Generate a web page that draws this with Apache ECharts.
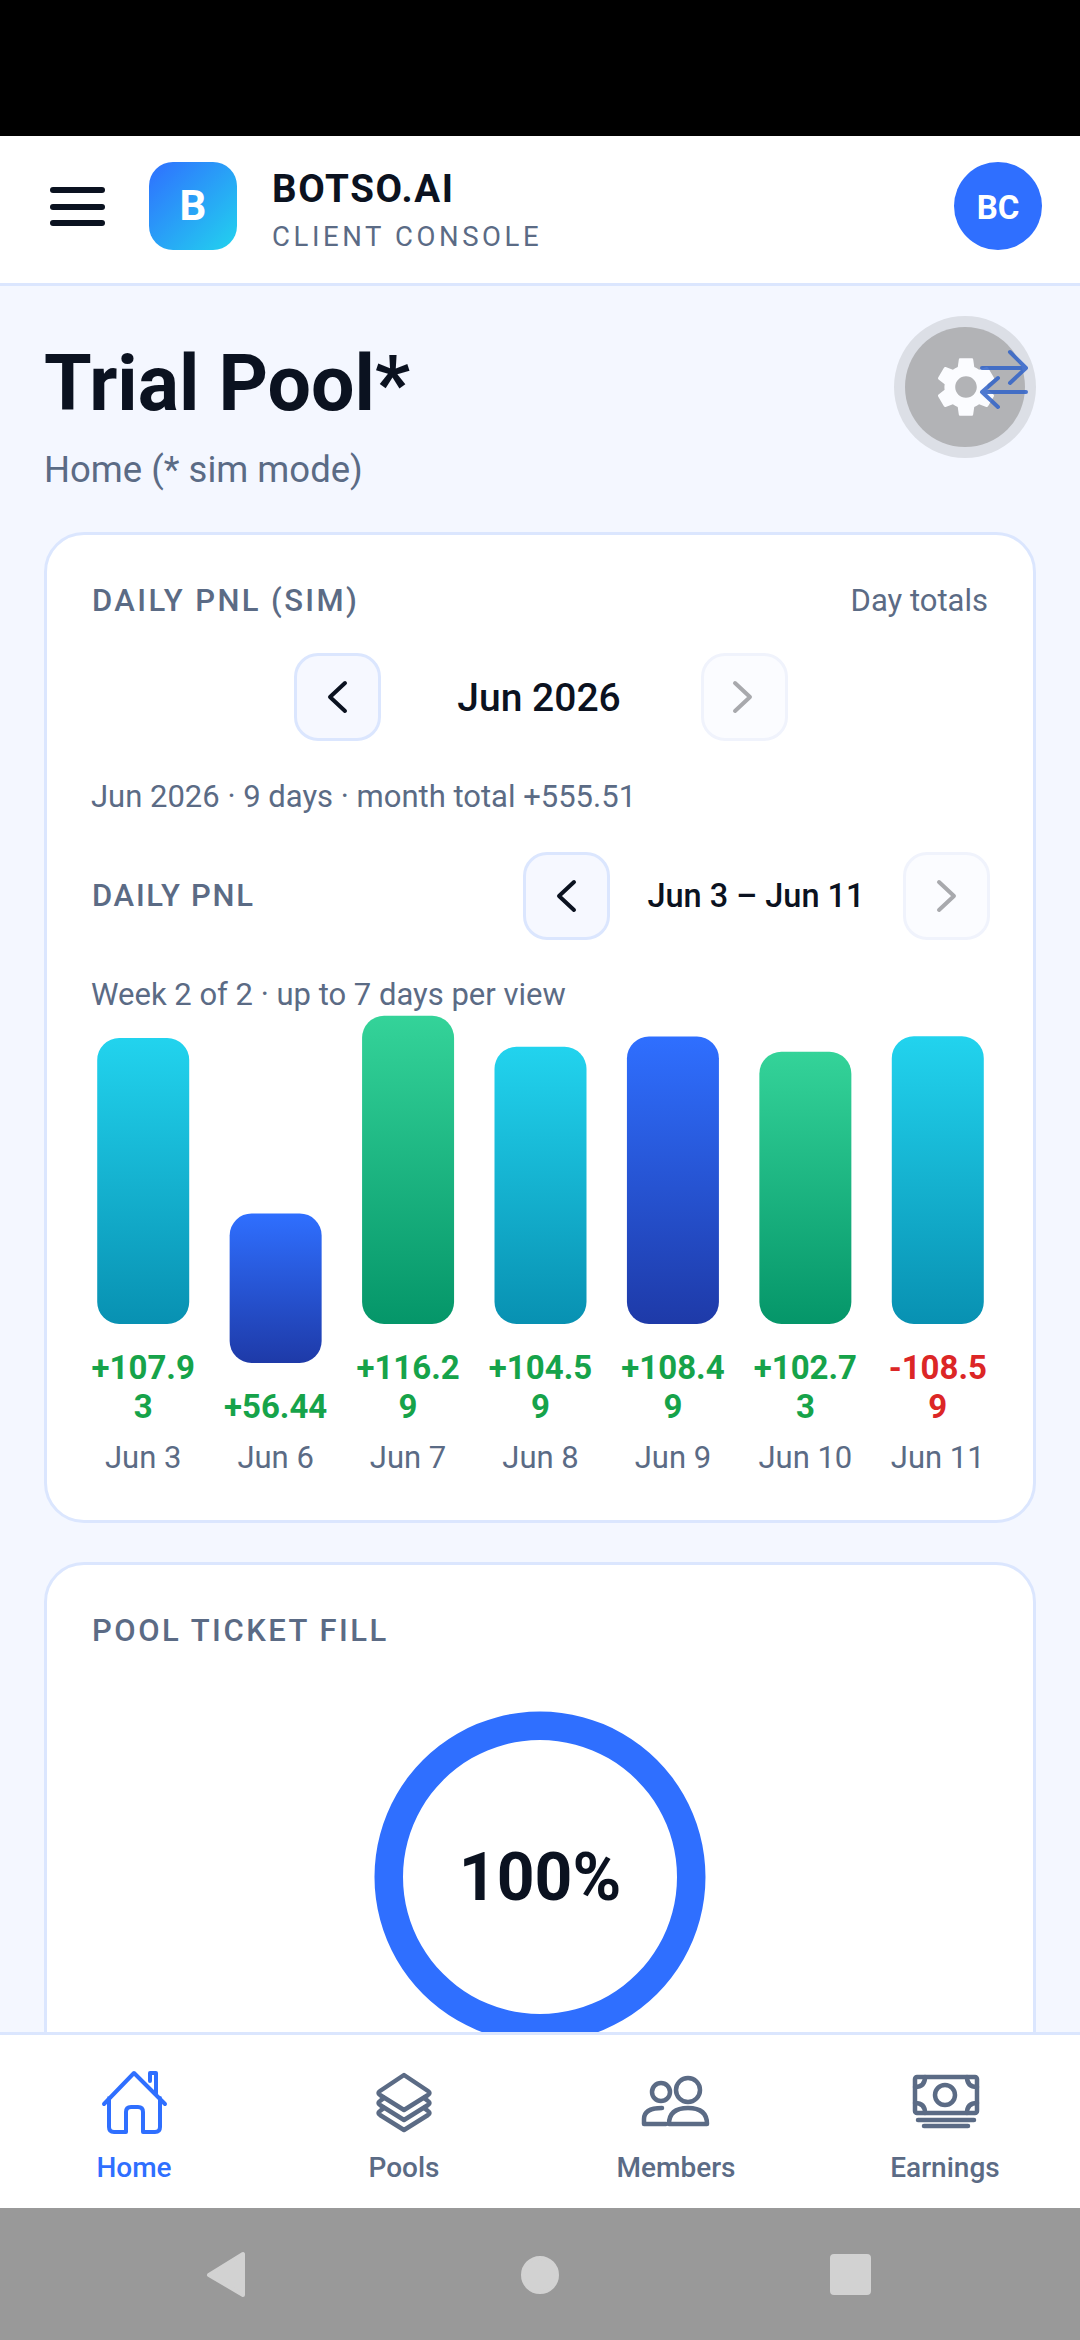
<!DOCTYPE html>
<html>
<head>
<meta charset="utf-8">
<title>Trial Pool</title>
<script src="https://cdn.jsdelivr.net/npm/echarts@6/dist/echarts.min.js"></script>
<style>
  html, body { margin: 0; padding: 0; width: 1080px; height: 2340px; overflow: hidden; background: #f4f7ff; font-family: Roboto, sans-serif; }
  .box { position: absolute; box-sizing: border-box; }
  .t { position: absolute; white-space: nowrap; transform: translateY(-50%); color: #5b6b85; font-size: 31px; line-height: 1.2; }
  .label { font-weight: 500; }
  .dark { color: #0b1220; }
  .card { left: 44px; width: 992px; background: #fff; border: 3px solid #dbe6fe; border-radius: 40px; }
  .btn { width: 87px; height: 88px; border-radius: 24px; background: #f6f8ff; border: 3px solid #dbe6fe; }
  .btn.off { background: #fbfcff; border-color: #f0f3fc; }
  svg { position: absolute; overflow: visible; }
  .nav-t { position: absolute; top: 2167px; transform: translate(-50%, -50%); font-size: 28px; font-weight: 500; color: #5b6b85; z-index: 3; }
</style>
</head>
<body>
<div class="box" style="left:0;top:0;width:1080px;height:136px;background:#000"></div>

<!-- header -->
<div class="box" style="left:0;top:136px;width:1080px;height:150px;background:#fff;border-bottom:3px solid #dbe6fe"></div>
<div class="box" style="left:50px;top:187px;width:55px;height:6px;border-radius:3px;background:#0b1220"></div>
<div class="box" style="left:50px;top:204px;width:55px;height:6px;border-radius:3px;background:#0b1220"></div>
<div class="box" style="left:50px;top:220px;width:55px;height:6px;border-radius:3px;background:#0b1220"></div>
<div class="box" style="left:149px;top:162px;width:88px;height:88px;border-radius:24px;background:linear-gradient(135deg,#2f6fff,#22d3ee);color:#fff;font-weight:700;font-size:42px;line-height:88px;text-align:center">B</div>
<div class="t dark" style="left:272px;top:189px;font-size:38.5px;font-weight:700;letter-spacing:1.6px">BOTSO.AI</div>
<div class="t" style="left:272px;top:236px;font-size:27.5px;letter-spacing:3.6px">CLIENT CONSOLE</div>
<div class="box" style="left:954px;top:162px;width:88px;height:88px;border-radius:50%;background:#2f6fff;color:#fff;font-weight:700;font-size:33px;line-height:92px;text-align:center">BC</div>

<!-- title -->
<div class="t dark" style="left:44px;top:384px;font-size:77px;font-weight:700">Trial Pool*</div>
<div class="t" style="left:44px;top:470px;font-size:36.5px">Home (* sim mode)</div>
<div class="box" style="left:894px;top:316px;width:142px;height:142px;border-radius:50%;background:#dcdfe6"></div>
<div class="box" style="left:905px;top:327px;width:120px;height:120px;border-radius:50%;background:#b2b3b6"></div>
<svg style="left:930px;top:351px" width="72" height="72" viewBox="0 0 24 24"><path fill="#fbfcff" d="M19.14 12.94c.04-.3.06-.61.06-.94 0-.32-.02-.64-.07-.94l2.03-1.58c.18-.14.23-.41.12-.61l-1.92-3.32c-.12-.22-.37-.29-.59-.22l-2.39.96c-.5-.38-1.03-.7-1.62-.94l-.36-2.54c-.04-.24-.24-.41-.48-.41h-3.84c-.24 0-.43.17-.47.41l-.36 2.54c-.59.24-1.13.57-1.62.94l-2.39-.96c-.22-.08-.47 0-.59.22L2.74 8.87c-.12.21-.08.47.12.61l2.03 1.58c-.05.3-.09.63-.09.94s.02.64.07.94l-2.03 1.58c-.18.14-.23.41-.12.61l1.92 3.32c.12.22.37.29.59.22l2.39-.96c.5.38 1.03.7 1.62.94l.36 2.54c.05.24.24.41.48.41h3.84c.24 0 .44-.17.47-.41l.36-2.54c.59-.24 1.13-.56 1.62-.94l2.39.96c.22.08.47 0 .59-.22l1.92-3.32c.12-.22.07-.47-.12-.61l-2.01-1.58zM12 15.6c-1.98 0-3.6-1.62-3.6-3.6s1.62-3.6 3.6-3.6 3.6 1.62 3.6 3.6-1.62 3.6-3.6 3.6z"/></svg>
<svg style="left:0;top:0" width="1080" height="500"><path fill="none" stroke="#2f62c8" stroke-opacity=".85" stroke-width="4" stroke-linecap="round" stroke-linejoin="round" d="M982 368H1026M1010 352L1026 368L1010 383M1026 392H982M998 378L982 392L998 407"/></svg>

<!-- cards -->
<div class="box card" style="top:532px;height:991px"></div>
<div class="box card" style="top:1562px;height:600px"></div>

<div class="t label" style="left:92px;top:601px;letter-spacing:2.4px">DAILY PNL (SIM)</div>
<div class="t" style="right:92px;top:601px">Day totals</div>

<div class="box btn" style="left:294px;top:653px"></div>
<div class="box btn off" style="left:701px;top:653px"></div>
<div class="t dark" style="left:539px;top:698px;font-size:39px;font-weight:500;transform:translate(-50%,-50%)">Jun 2026</div>
<div class="t" style="left:91px;top:797px">Jun 2026 · 9 days · month total +555.51</div>

<div class="t label" style="left:92px;top:896px;letter-spacing:1.7px">DAILY PNL</div>
<div class="box btn" style="left:523px;top:852px"></div>
<div class="box btn off" style="left:903px;top:852px"></div>
<svg style="left:0;top:0" width="1080" height="1000"><g fill="none" stroke-width="4" stroke-linecap="round" stroke-linejoin="round">
  <path stroke="#0b1220" d="M345 683L330 697L345 711"/><path stroke="#a8a9ad" d="M735 683L750 697L735 711"/>
  <path stroke="#0b1220" d="M574 882L559 896L574 910"/><path stroke="#a8a9ad" d="M939 882L954 896L939 910"/>
</g></svg>
<div class="t dark" style="left:756px;top:896px;font-size:32.5px;font-weight:500;transform:translate(-50%,-50%)">Jun 3 – Jun 11</div>
<div class="t" style="left:91px;top:995px">Week 2 of 2 · up to 7 days per view</div>

<div class="t label" style="left:92px;top:1631px;letter-spacing:2.5px">POOL TICKET FILL</div>

<div id="chart" class="box" style="left:0;top:0;width:1080px;height:2340px;z-index:1"></div>

<!-- bottom nav -->
<div class="box" style="left:0;top:2032px;width:1080px;height:176px;background:#fff;border-top:3px solid #dbe6fe;z-index:2"></div>
<div class="box" style="left:0;top:2208px;width:1080px;height:132px;background:#999;z-index:2"></div>
<svg style="left:0;top:0;z-index:3" width="1080" height="2340">
  <g fill="none" stroke-width="4" stroke-linecap="round" stroke-linejoin="round">
    <path stroke="#2f6fff" d="M104 2104L134 2073L165 2104M150 2081V2073H156V2095M109 2098V2127Q109 2132 114 2132H126V2112Q126 2107 131 2107H138Q143 2107 143 2112V2132H155Q160 2132 160 2127V2098"/>
    <g stroke="#5b6b85" stroke-width="4.5">
      <path d="M404 2075L428 2091Q431 2093 428 2095L404 2110L380 2095Q377 2093 380 2091Z"/>
      <path d="M384 2098L380 2101Q377 2103 380 2105L404 2120L428 2105Q431 2103 428 2101L424 2098"/>
      <path d="M384 2108L380 2111Q377 2113 380 2115L404 2130L428 2115Q431 2113 428 2111L424 2108"/>
      <circle cx="661" cy="2092" r="9"/><circle cx="688" cy="2090" r="12"/>
      <path d="M666 2124H644V2119Q644 2108 662 2108"/>
      <path d="M669 2124Q669 2108 688 2108Q707 2108 707 2124Z"/>
      <rect x="915" y="2077" width="62" height="36" rx="2"/>
      <circle cx="945" cy="2095" r="10"/>
      <path d="M915 2087Q925 2087 925 2077M977 2087Q967 2087 967 2077M915 2103Q925 2103 925 2113M977 2103Q967 2103 967 2113"/>
      <path d="M918 2120H974M924 2126H968"/>
    </g>
  </g>
  <g fill="#d2d2d2" stroke="#d2d2d2" stroke-width="4" stroke-linejoin="round">
    <path d="M243 2254V2295L209 2275Z"/>
    <circle cx="540" cy="2275" r="17"/>
    <rect x="832" y="2256" width="37" height="37" rx="2"/>
  </g>
</svg>
<div class="nav-t" style="left:134px;color:#2f6fff">Home</div>
<div class="nav-t" style="left:404px">Pools</div>
<div class="nav-t" style="left:676px">Members</div>
<div class="nav-t" style="left:945px">Earnings</div>

<script>
// week view data
var dayLabels = ["Jun 3", "Jun 6", "Jun 7", "Jun 8", "Jun 9", "Jun 10", "Jun 11"];
var dayPnl = [107.93, 56.44, 116.29, 104.59, 108.49, 102.73, -108.59];
var barColors = [
  ["#22d3ee", "#0891b2"],
  ["#2f6fff", "#1e3aa8"],
  ["#34d399", "#059669"],
];
var ticketFill = [100];
// the one day whose label fits on one line sits lower, like in the app
var oneLineDays = ["Jun 6"];

function barItem(v, i) {
  var c = barColors[i % 3];
  return {
    value: Math.abs(v),
    pnl: v,
    itemStyle: {
      borderRadius: 22,
      color: new echarts.graphic.LinearGradient(0, 0, 0, 1, [
        { offset: 0, color: c[0] },
        { offset: 1, color: c[1] },
      ]),
    },
    label: { color: v < 0 ? "#dc2626" : "#16a34a" },
  };
}

function pnlText(p) {
  var v = p.data.pnl;
  return (v < 0 ? "-" : "+") + Math.abs(v).toFixed(2);
}

var twoLine = [];
var oneLine = [];
dayPnl.forEach(function (v, i) {
  var low = oneLineDays.indexOf(dayLabels[i]) >= 0;
  twoLine.push(low ? null : barItem(v, i));
  oneLine.push(low ? barItem(v, i) : null);
});

var barLabel = {
  show: true,
  position: "bottom",
  distance: 24,
  formatter: pnlText,
  fontFamily: "Roboto",
  fontSize: 33,
  fontWeight: 700,
  lineHeight: 39,
  width: 112,
  overflow: "breakAll",
  align: "center",
};

var option = {
  animation: false,
  grid: [
    { left: 77, width: 927, top: 1006, height: 318 },
    { left: 77, width: 927, top: 1045, height: 318 },
  ],
  xAxis: [
    {
      gridIndex: 0,
      type: "category",
      data: dayLabels,
      axisLine: { show: false },
      axisTick: { show: false },
      axisLabel: { margin: 118, fontFamily: "Roboto", fontSize: 31, color: "#5b6b85" },
    },
    { gridIndex: 1, type: "category", data: dayLabels, show: false },
  ],
  yAxis: [
    { gridIndex: 0, type: "value", min: 0, max: 120, show: false },
    { gridIndex: 1, type: "value", min: 0, max: 120, show: false },
  ],
  series: [
    { type: "bar", xAxisIndex: 0, yAxisIndex: 0, barWidth: 92, data: twoLine, label: barLabel },
    { type: "bar", xAxisIndex: 1, yAxisIndex: 1, barWidth: 92, data: oneLine, label: barLabel },
    {
      type: "pie",
      center: [540, 1877],
      radius: [137, 165.5],
      silent: true,
      data: ticketFill,
      itemStyle: { color: "#2f6fff" },
      labelLine: { show: false },
      label: {
        position: "center",
        formatter: "{c}%",
        fontFamily: "Roboto",
        fontSize: 66,
        fontWeight: 700,
        color: "#0b1220",
      },
    },
  ],
};

var chart = echarts.init(document.getElementById("chart"), null, { renderer: "svg" });
chart.setOption(option);
</script>
</body>
</html>
